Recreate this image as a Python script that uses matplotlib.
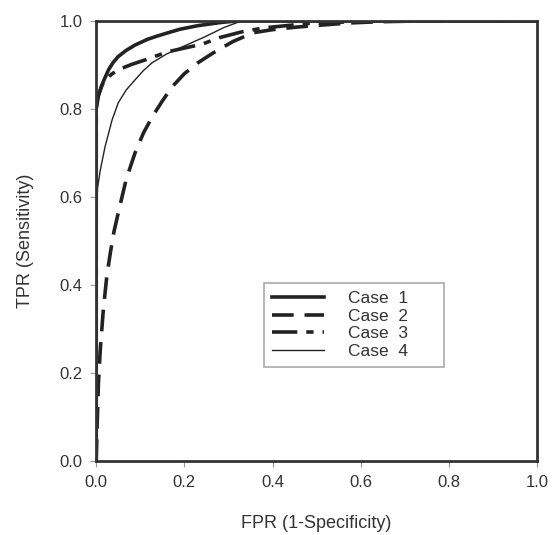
import matplotlib
matplotlib.use("Agg")
import matplotlib.pyplot as plt

plt.rcParams["font.family"] = ["Liberation Sans", "DejaVu Sans"]

# ROC curves
fpr1 = [0.0, 0.0, 0.002, 0.005, 0.009, 0.016, 0.028, 0.038, 0.05, 0.068, 0.088, 0.116,
        0.14, 0.163, 0.19, 0.23, 0.28, 0.32, 1.0]
tpr1 = [0.0, 0.80, 0.82, 0.832, 0.842, 0.862, 0.889, 0.905, 0.919, 0.933, 0.945, 0.958,
        0.966, 0.973, 0.981, 0.989, 0.996, 1.0, 1.0]

fpr2 = [0.0, 0.002, 0.005, 0.009, 0.016, 0.024, 0.032, 0.04, 0.05, 0.068, 0.088, 0.107,
        0.127, 0.15, 0.172, 0.2, 0.231, 0.265, 0.31, 0.356, 0.40, 0.456, 0.57, 0.64,
        0.75, 1.0]
tpr2 = [0.0, 0.08, 0.177, 0.25, 0.343, 0.42, 0.473, 0.52, 0.564, 0.64, 0.70, 0.745,
        0.782, 0.818, 0.85, 0.88, 0.905, 0.927, 0.953, 0.973, 0.98, 0.986, 0.995, 0.998,
        1.0, 1.0]

fpr3 = [0.0, 0.0, 0.005, 0.012, 0.02, 0.035, 0.05, 0.08, 0.11, 0.163, 0.24, 0.28, 0.33,
        0.38, 0.49, 0.65, 1.0]
tpr3 = [0.0, 0.80, 0.83, 0.852, 0.866, 0.879, 0.889, 0.901, 0.911, 0.93, 0.947, 0.962,
        0.975, 0.984, 0.995, 1.0, 1.0]

fpr4 = [0.0, 0.0, 0.003, 0.009, 0.02, 0.036, 0.05, 0.068, 0.088, 0.107, 0.127, 0.16, 0.2,
        0.247, 0.29, 0.33, 1.0]
tpr4 = [0.0, 0.56, 0.62, 0.66, 0.714, 0.775, 0.814, 0.843, 0.866, 0.887, 0.905, 0.925,
        0.943, 0.964, 0.985, 1.0, 1.0]

labels = ["Case  1", "Case  2", "Case  3", "Case  4"]
ticks = [0.0, 0.2, 0.4, 0.6, 0.8, 1.0]

ink = "#222222"

fig = plt.figure(figsize=(5.53, 5.35), dpi=100)
ax = fig.add_axes([0.174, 0.138, 0.797, 0.823])

ax.plot(fpr1, tpr1, color=ink, lw=2.6, label=labels[0])
ax.plot(fpr2, tpr2, color=ink, lw=2.6, dashes=(6, 3), label=labels[1])
ax.plot(fpr3, tpr3, color=ink, lw=2.6, dashes=(7, 2.5, 2, 2.5), label=labels[2])
ax.plot(fpr4, tpr4, color=ink, lw=1.0, label=labels[3])

ax.set_xlim(0, 1)
ax.set_ylim(0, 1)
ax.set_xticks(ticks)
ax.set_yticks(ticks)
ax.set_xticklabels([f"{t:.1f}" for t in ticks])
ax.set_yticklabels([f"{t:.1f}" for t in ticks])
ax.tick_params(direction="out", length=4, width=0.8, color="#999999",
               labelsize=12, labelcolor="#333333", pad=6)

for s in ax.spines.values():
    s.set_linewidth(2.0)
    s.set_color("#333333")

ax.set_xlabel("FPR (1-Specificity)", fontsize=13, color="#333333", labelpad=18)
ax.set_ylabel("TPR (Sensitivity)", fontsize=13, color="#333333", labelpad=18)

leg = ax.legend(loc="lower left", bbox_to_anchor=(0.38, 0.214, 0.41, 0.19),
                mode="expand", fontsize=12.5, handlelength=3.0, labelspacing=0.15,
                borderpad=0.45, borderaxespad=0, fancybox=False, framealpha=1,
                handletextpad=1.4)
leg.get_frame().set_edgecolor("#aaaaaa")
leg.get_frame().set_linewidth(1.2)
for t in leg.get_texts():
    t.set_color("#333333")

fig.savefig("out.png", dpi=100)
